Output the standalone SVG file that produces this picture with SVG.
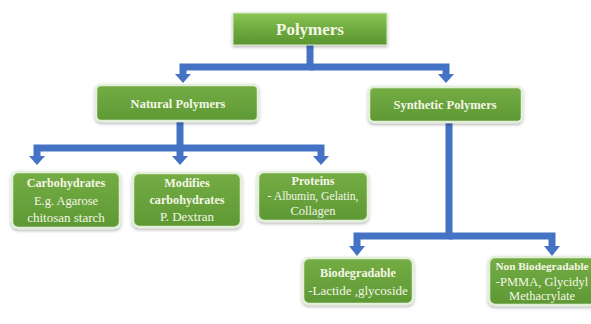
<svg xmlns="http://www.w3.org/2000/svg" width="591" height="324" viewBox="0 0 591 324">
<defs>
<linearGradient id="gTop" x1="0" y1="0" x2="0" y2="1">
<stop offset="0" stop-color="#8cc654"/>
<stop offset="0.5" stop-color="#6eab3e"/>
<stop offset="1" stop-color="#5a952f"/>
</linearGradient>
<linearGradient id="gBox" x1="0" y1="0" x2="0" y2="1">
<stop offset="0" stop-color="#74ad44"/>
<stop offset="1" stop-color="#5e9834"/>
</linearGradient>
<filter id="sh" x="-10%" y="-20%" width="120%" height="150%">
<feDropShadow dx="0" dy="1.5" stdDeviation="1.5" flood-color="#000" flood-opacity="0.3"/>
</filter>
<style>
.box{fill:url(#gBox);stroke:#e3efd9;stroke-width:2.5;filter:url(#sh)}
.top{fill:url(#gTop);stroke:#d6e8c6;stroke-width:1;filter:url(#sh)}
text{font-family:'Liberation Serif','Times New Roman',serif;fill:#f4f6e6;text-anchor:middle}
.b{font-weight:bold}
.c{fill:none;stroke:#4472c4;stroke-width:7;stroke-linejoin:miter}
.hd{fill:#4472c4}
</style>
</defs>
<rect width="591" height="324" fill="#ffffff"/>
<g id="connectors">
<path class="c" d="M310,45 V67 H183 V75"/>
<path class="c" d="M310,67 H446 V75"/>
<polygon class="hd" points="175,74 191,74 183,83"/>
<polygon class="hd" points="438,74 454,74 446,83"/>
<path class="c" d="M180,121 V148 H37 V157"/>
<path class="c" d="M180,148 V157"/>
<path class="c" d="M180,148 H321 V157"/>
<polygon class="hd" points="29,156 45,156 37,165"/>
<polygon class="hd" points="172,156 188,156 180,165"/>
<polygon class="hd" points="313,156 329,156 321,165"/>
<path class="c" d="M449,122 V236 H357 V247"/>
<path class="c" d="M449,236 H552 V247"/>
<polygon class="hd" points="349,246 365,246 357,256"/>
<polygon class="hd" points="544,246 560,246 552,256"/>
</g>
<g id="polymers">
<rect class="top" x="233" y="13" width="154" height="32"/>
<text class="b" x="310" y="35" font-size="17" font-family="Liberation Serif, serif">Polymers</text>
</g>
<g id="natural">
<rect class="box" x="96" y="85" width="162" height="36" rx="5"/>
<text class="b" x="178" y="108" font-size="12.5" font-family="Liberation Serif, serif">Natural Polymers</text>
</g>
<g id="synthetic">
<rect class="box" x="369" y="87" width="153" height="35" rx="5"/>
<text class="b" x="445" y="109" font-size="12.5" font-family="Liberation Serif, serif">Synthetic Polymers</text>
</g>
<g id="carbohydrates" font-family="Liberation Serif, serif">
<rect class="box" x="12" y="172" width="108" height="56" rx="6"/>
<text class="b" x="66" y="187" font-size="12.2">Carbohydrates</text>
<text x="66" y="205" font-size="12.5">E.g. Agarose</text>
<text x="66" y="222" font-size="13">chitosan starch</text>
</g>
<g id="modifies" font-family="Liberation Serif, serif">
<rect class="box" x="133" y="173" width="108" height="54" rx="6"/>
<text class="b" x="187" y="187" font-size="12.2">Modifies</text>
<text class="b" x="187" y="204" font-size="12.2">carbohydrates</text>
<text x="187" y="221" font-size="13">P. Dextran</text>
</g>
<g id="proteins" font-family="Liberation Serif, serif">
<rect class="box" x="258" y="172" width="110" height="49" rx="6"/>
<text class="b" x="313" y="185" font-size="12.2">Proteins</text>
<text x="313" y="200" font-size="11.7">- Albumin, Gelatin,</text>
<text x="313" y="215" font-size="12.5">Collagen</text>
</g>
<g id="biodegradable" font-family="Liberation Serif, serif">
<rect class="box" x="303" y="258" width="110" height="46" rx="6"/>
<text class="b" x="358" y="277" font-size="12.2">Biodegradable</text>
<text x="358" y="295" font-size="13">-Lactide ,glycoside</text>
</g>
<g id="nonbiodegradable" font-family="Liberation Serif, serif">
<rect class="box" x="489" y="257" width="108" height="48" rx="6"/>
<text class="b" x="542" y="270" font-size="11.3">Non Biodegradable</text>
<text x="542" y="286" font-size="12.5">-PMMA, Glycidyl</text>
<text x="542" y="300" font-size="12.5">Methacrylate</text>
</g>
</svg>
